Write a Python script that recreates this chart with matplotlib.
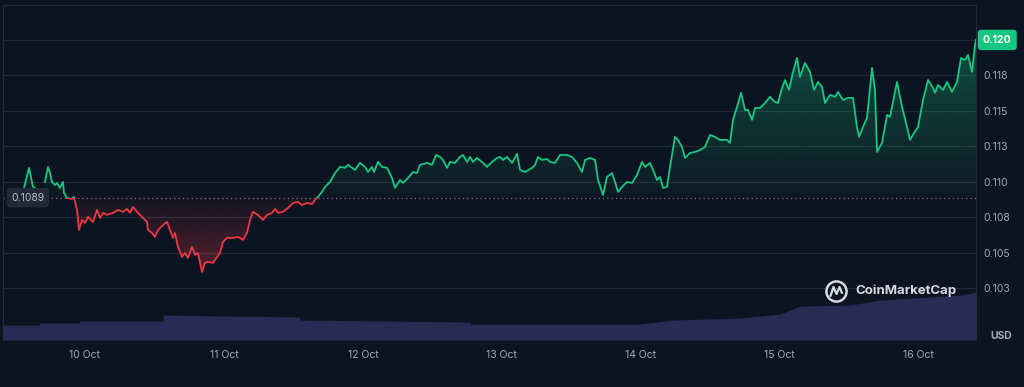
import numpy as np
import matplotlib.pyplot as plt
import matplotlib.colors as mcolors
from matplotlib.path import Path
from matplotlib.patches import Rectangle
from matplotlib.lines import Line2D

plt.rcParams['font.family'] = ['Inter', 'DejaVu Sans']

# hours since 10 Oct 00:00, price in USD
hours = [-10.53, -9.67, -8.98, -8.64, -7.8, -6.91, -6.39, -6.04, -5.70, -5.18,
         -4.84, -4.32, -3.80, -3.63, -3.11, -2.25, -1.90, -1.38, -1.04, -0.52,
         0.00, 0.52, 1.38, 2.07, 2.59, 3.11, 3.80, 4.84, 5.70, 6.56,
         7.25, 7.77, 8.29, 8.98, 9.84, 10.71, 10.88, 11.57, 12.09, 12.61,
         13.47, 14.16, 14.68, 15.20, 15.54, 16.06, 16.75, 17.27, 17.79, 18.48,
         19.00, 19.52, 20.21, 20.72, 21.24, 22.11, 22.80, 23.31, 23.83, 24.52,
         25.56, 26.42, 27.29, 27.98, 28.50, 29.01, 29.88, 30.74, 31.43, 32.29,
         32.81, 33.33, 34.19, 35.06, 35.92, 36.78, 37.48, 38.34, 39.20, 39.72,
         40.24, 40.93, 41.45, 42.31, 43.18, 44.04, 44.90, 45.42,
         46.63, 47.49, 48.36, 48.87, 49.56, 49.91, 50.60, 51.29, 52.16, 53.02,
         53.54, 54.40, 54.92, 55.78, 56.65, 57.34, 57.85, 59.06, 59.93, 60.62,
         61.31, 61.83, 62.52, 63.04, 63.90, 64.76, 65.28, 65.97, 66.49, 67.01,
         67.70, 68.56, 69.43, 70.29, 71.15, 71.67, 72.19, 72.88, 73.74, 74.61,
         75.12, 75.99, 77.20, 77.72, 78.23, 78.92, 79.79, 80.31, 81.17, 82.03,
         83.24, 84.10, 84.97, 85.83, 86.35, 87.21, 88.08, 88.60, 89.46, 90.15,
         91.01, 91.53, 92.05, 92.74, 93.60, 94.47, 95.33, 96.19, 96.71, 97.58,
         98.09, 98.78, 99.30, 99.82, 100.51, 101.03, 101.89, 102.41, 103.10, 103.62,
         104.48,
         105.35, 106.21, 107.07, 107.94, 108.80, 109.66, 110.87, 111.39, 111.91, 112.60,
         113.29, 113.98, 114.50, 115.19, 115.71, 116.57, 117.44, 118.30, 119.16, 119.68,
         120.37, 120.89, 121.58, 122.27, 122.96, 123.48, 124.34, 125.21, 125.90, 126.59,
         127.28, 127.80, 128.66, 129.53, 130.04, 130.91, 131.77, 132.63, 133.32, 133.67,
         134.36, 135.05, 135.91, 136.43, 136.78, 137.64, 138.51, 139.02, 140.23, 141.10,
         141.96, 142.48, 143.17, 143.86, 144.72, 145.59, 146.45, 146.80, 147.31, 148.18,
         148.87, 149.73, 150.59, 151.28, 151.97, 152.49, 153.18, 153.70, 153.87]

price = [0.10958, 0.11099, 0.10965, 0.10958, np.nan, 0.11000, 0.11106, 0.11063, 0.11000, 0.10979,
         0.10993, 0.10958, 0.11000, 0.10923, 0.10887, 0.10880, 0.10894, 0.10803, 0.10662, 0.10732,
         0.10711, 0.10754, 0.10718, 0.10803, 0.10746, 0.10782, 0.10768, 0.10782, 0.10803, 0.10789,
         0.10810, 0.10782, 0.10824, 0.10789, 0.10754, 0.10718, 0.10662, 0.10641, 0.10613, 0.10662,
         0.10697, 0.10718, 0.10662, 0.10606, 0.10641, 0.10542, 0.10472, 0.10500, 0.10465, 0.10542,
         0.10486, 0.10500, 0.10366, 0.10430, 0.10437, 0.10430, 0.10472, 0.10500, 0.10577, 0.10606,
         0.10606, 0.10613, 0.10592, 0.10641, 0.10732, 0.10789, 0.10768, 0.10732, 0.10768, 0.10782,
         0.10810, 0.10782, 0.10789, 0.10817, 0.10852, 0.10859, 0.10838, 0.10852, 0.10845, 0.10873,
         0.10894, 0.10930, 0.10965, 0.11000, 0.11063, 0.11106, 0.11099, 0.11120,
         0.11085, 0.11134, 0.11106, 0.11070, 0.11106, 0.11070, 0.11141, 0.11106, 0.11099, 0.11028,
         0.10958, 0.11014, 0.10993, 0.11028, 0.11070, 0.11063, 0.11120, 0.11134, 0.11120, 0.11190,
         0.11176, 0.11155, 0.11099, 0.11141, 0.11134, 0.11176, 0.11190, 0.11141, 0.11176, 0.11141,
         0.11169, 0.11141, 0.11106, 0.11141, 0.11169, 0.11176, 0.11155, 0.11176, 0.11134, 0.11197,
         0.11085, 0.11070, 0.11099, 0.11120, 0.11176, 0.11155, 0.11162, 0.11141, 0.11134, 0.11190,
         0.11190, 0.11176, 0.11134, 0.11070, 0.11155, 0.11169, 0.11155, 0.11014, 0.10908, 0.11035,
         0.11063, 0.11000, 0.10930, 0.10965, 0.11000, 0.10993, 0.11049, 0.11141, 0.11106, 0.11134,
         0.11085, 0.11014, 0.11035, 0.10958, 0.10965, 0.11106, 0.11317, 0.11296, 0.11246, 0.11169,
         0.11204,
         0.11211, 0.11225, 0.11246, 0.11331, 0.11317, 0.11296, 0.11296, 0.11275, 0.11437, 0.11528,
         0.11627, 0.11507, 0.11507, 0.11437, 0.11521, 0.11521, 0.11556, 0.11599, 0.11563, 0.11556,
         0.11662, 0.11718, 0.11648, 0.11775, 0.11873, 0.11739, 0.11838, 0.11775, 0.11648, 0.11704,
         0.11669, 0.11556, 0.11613, 0.11599, 0.11634, 0.11577, 0.11592, 0.11592, 0.11387, 0.11317,
         0.11387, 0.11451, 0.11803, 0.11648, 0.11211, 0.11275, 0.11472, 0.11458, 0.11704, 0.11528,
         0.11387, 0.11296, 0.11345, 0.11387, 0.11577, 0.11718, 0.11662, 0.11627, 0.11683, 0.11648,
         0.11704, 0.11634, 0.11704, 0.11873, 0.11859, 0.11894, 0.11775, 0.11965, 0.12000]

base_price = 0.1089

# 24h volume (relative units)
vol_hours = [-14.2, -7.8, -7.8, -0.9, -0.9, 13.5, 13.5, 37.1, 37.1, 66.5,
             66.5, 95.9, 101.6, 113.1, 120.0, 123.5, 132.1, 137.3, 151.1, 153.9]
vol = [15, 15, 17, 17, 19, 19, 25, 23, 20, 18,
       16, 16, 20, 22, 26, 34, 35, 40, 45, 48]

day_ticks = [0, 24, 48, 72, 96, 120, 144]
day_labels = ['10 Oct', '11 Oct', '12 Oct', '13 Oct', '14 Oct', '15 Oct', '16 Oct']
price_ticks = [0.1025, 0.105, 0.1075, 0.110, 0.1125, 0.115, 0.1175, 0.120]
price_labels = ['0.103', '0.105', '0.108', '0.110', '0.113', '0.115', '0.118', '0.120']

BG = '#0d1421'
GREEN = '#16c784'
RED = '#ea3943'
GRID = '#242a38'
TXT = '#a1a7bb'

h = np.array(hours)
p = np.array(price)
assert len(h) == len(p)
x0, x1 = -14.16, 153.87
y0, y1 = 0.09887, 0.12246

fig = plt.figure(figsize=(10.24, 3.87), dpi=100, facecolor=BG)
ax = fig.add_axes([3 / 1024, 47 / 387, 973 / 1024, 335 / 387])
ax.set_facecolor(BG)

# volume strip at the bottom
vax = ax.twinx()
vax.fill_between(vol_hours, vol, 0, color='#262c54', lw=0)
vax.set_ylim(0, 7 * max(vol))
vax.axis('off')

# gradient fills, clipped to the area between price and the open price
poly = ax.fill_between(h, p, base_price, facecolor='none', edgecolor='none')
clip = Path.make_compound_path(*poly.get_paths())
grad = np.linspace(0, 1, 256)[:, None]

g = np.zeros((256, 1, 4))
g[..., :3] = mcolors.to_rgb(GREEN)
g[..., 3] = 0.03 + 0.30 * grad
im = ax.imshow(g, origin='lower', extent=[x0, x1, base_price, np.nanmax(p)],
               aspect='auto', zorder=1, interpolation='bilinear')
im.set_clip_path(clip, ax.transData)

r = np.zeros((256, 1, 4))
r[..., :3] = mcolors.to_rgb(RED)
r[..., 3] = 0.03 + 0.30 * (1 - grad)
im2 = ax.imshow(r, origin='lower', extent=[x0, x1, np.nanmin(p), base_price],
                aspect='auto', zorder=1, interpolation='bilinear')
im2.set_clip_path(clip, ax.transData)

# price line, green above the open and red below
above = Rectangle((x0, base_price), x1 - x0, y1 - base_price, transform=ax.transData)
below = Rectangle((x0, y0), x1 - x0, base_price - y0, transform=ax.transData)
lg, = ax.plot(h, p, color=GREEN, lw=1.3, zorder=3)
lg.set_clip_path(above)
lr, = ax.plot(h, p, color=RED, lw=1.3, zorder=3)
lr.set_clip_path(below)

ax.axhline(base_price, color='#6d7385', lw=0.9, ls=(0, (1, 2.5)), zorder=2)

ax.set_xlim(x0, x1)
ax.set_ylim(y0, y1)
ax.set_yticks(price_ticks)
ax.set_yticklabels(price_labels)
ax.yaxis.tick_right()
ax.tick_params(axis='y', length=0, pad=5, labelsize=7.5, labelcolor=TXT)
ax.set_xticks(day_ticks)
ax.set_xticklabels(day_labels)
ax.tick_params(axis='x', length=0, pad=7, labelsize=7.5, labelcolor=TXT)
ax.grid(axis='y', color=GRID, lw=0.8)
ax.set_axisbelow(True)
for s in ['top', 'left', 'right']:
    ax.spines[s].set_color(GRID)
ax.spines['bottom'].set_visible(False)

# last price and open price tags
ax.annotate(price_labels[-1], xy=(1, p[-1]), xycoords=('axes fraction', 'data'),
            xytext=(5, 0), textcoords='offset points', ha='left', va='center',
            fontsize=7.5, fontweight='bold', color='white', annotation_clip=False,
            bbox=dict(boxstyle='round,pad=0.5,rounding_size=0.35', fc=GREEN, ec='none'),
            zorder=6)
ax.annotate('0.1089', xy=(0, base_price), xycoords=('axes fraction', 'data'),
            xytext=(6, 0), textcoords='offset points', ha='left', va='center',
            fontsize=7.5, color='#b4b9c7',
            bbox=dict(boxstyle='round,pad=0.45,rounding_size=0.4', fc='#232836', ec='none'),
            zorder=6)

fig.text(1001 / 1024, 1 - 336 / 387, 'USD', ha='center', va='center',
         fontsize=7.5, fontweight='bold', color=TXT)

# watermark
WM = '#d5d8df'
fig.add_artist(Line2D([836 / 1024], [1 - 291 / 387], marker='o', ms=14.5, mfc='none',
                      mec=WM, mew=1.8, transform=fig.transFigure, zorder=5))
mx = np.array([830.5, 833.5, 836.5, 839.5, 842.0]) / 1024
my = 1 - np.array([296.0, 287.0, 294.0, 287.0, 293.0]) / 387
fig.add_artist(Line2D(mx, my, color=WM, lw=1.6, transform=fig.transFigure, zorder=5,
                      solid_joinstyle='round', solid_capstyle='round'))
fig.text(855 / 1024, 1 - 291 / 387, 'CoinMarketCap', ha='left', va='center',
         fontsize=9.5, fontweight='bold', color=WM, zorder=5)

fig.savefig('out.png', dpi=100, facecolor=BG)
